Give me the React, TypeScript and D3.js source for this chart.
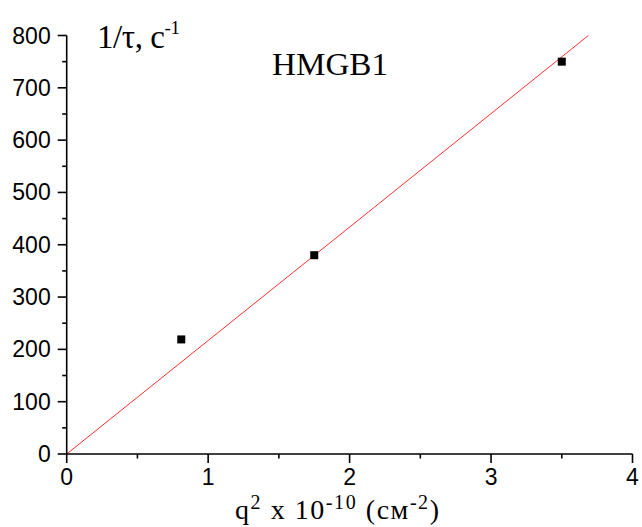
import React from "react";
import * as d3 from "d3";

const qSquared = [0.81, 1.75, 3.5];
const invTau = [219, 380, 750];
const fitSlope = 216.9;
const fitXEnd = 3.688;
const xTicks = [0, 1, 2, 3, 4];
const yTicks = [0, 100, 200, 300, 400, 500, 600, 700, 800];
const xMinor = [0.5, 1.5, 2.5, 3.5];
const yMinor = [50, 150, 250, 350, 450, 550, 650, 750];

export default function App() {
  const W = 642, H = 527;
  const x = d3.scaleLinear().domain([0, 4]).range([66.7, 632.5]);
  const y = d3.scaleLinear().domain([0, 800]).range([454, 35.5]);
  const line = d3.line<number>().x((d) => x(d)).y((d) => y(fitSlope * d));
  const sans = "'Liberation Sans', Arial, sans-serif";
  const serif = "'Liberation Serif', 'Times New Roman', serif";
  return (
    <div style={{ position: "absolute", left: 0, top: 0 }}>
      <svg width={W} height={H} style={{ display: "block", background: "#fff" }}>
        {/* fit line */}
        <path d={line([0, fitXEnd]) || ""} fill="none" stroke="#ff3030" strokeWidth={1} />
        {/* axes */}
        <line x1={x(0)} x2={x(0)} y1={y(0)} y2={y(800)} stroke="#000" strokeWidth={1.6} />
        <line x1={x(0)} x2={x(4)} y1={y(0)} y2={y(0)} stroke="#000" strokeWidth={1.6} />
        {yTicks.map((t) => (
          <g key={"y" + t}>
            <line x1={x(0) - 9} x2={x(0)} y1={y(t)} y2={y(t)} stroke="#000" strokeWidth={1.6} />
            <text x={x(0) - 16} y={y(t) + 8} textAnchor="end" fontFamily={sans} fontSize={23} fill="#000">
              {t}
            </text>
          </g>
        ))}
        {yMinor.map((t) => (
          <line key={"ym" + t} x1={x(0) - 4.5} x2={x(0)} y1={y(t)} y2={y(t)} stroke="#000" strokeWidth={1.6} />
        ))}
        {xTicks.map((t) => (
          <g key={"x" + t}>
            <line x1={x(t)} x2={x(t)} y1={y(0)} y2={y(0) + 9} stroke="#000" strokeWidth={1.6} />
            <text x={x(t)} y={485} textAnchor="middle" fontFamily={sans} fontSize={23} fill="#000">
              {t}
            </text>
          </g>
        ))}
        {xMinor.map((t) => (
          <line key={"xm" + t} x1={x(t)} x2={x(t)} y1={y(0)} y2={y(0) + 4.5} stroke="#000" strokeWidth={1.6} />
        ))}
        {/* points */}
        {qSquared.map((q, i) => (
          <rect key={"p" + i} x={x(q) - 4} y={y(invTau[i]) - 4} width={8} height={8} fill="#000" />
        ))}
        {/* labels */}
        <text x={97} y={48} fontFamily={serif} fontSize={33} fill="#000" textLength={83}>
          1/τ, с
          <tspan dy={-14} fontSize={19}>-1</tspan>
        </text>
        <text x={272} y={75} fontFamily={serif} fontSize={31} fill="#000" textLength={116} lengthAdjust="spacingAndGlyphs">
          HMGB1
        </text>
        <text x={235} y={519} fontFamily={serif} fontSize={28} fill="#000" textLength={204}>
          q<tspan dy={-10} fontSize={20}>2</tspan>
          <tspan dy={10}> x 10</tspan>
          <tspan dy={-10} fontSize={20}>-10</tspan>
          <tspan dy={10}> (см</tspan>
          <tspan dy={-10} fontSize={20}>-2</tspan>
          <tspan dy={10}>)</tspan>
        </text>
      </svg>
    </div>
  );
}
